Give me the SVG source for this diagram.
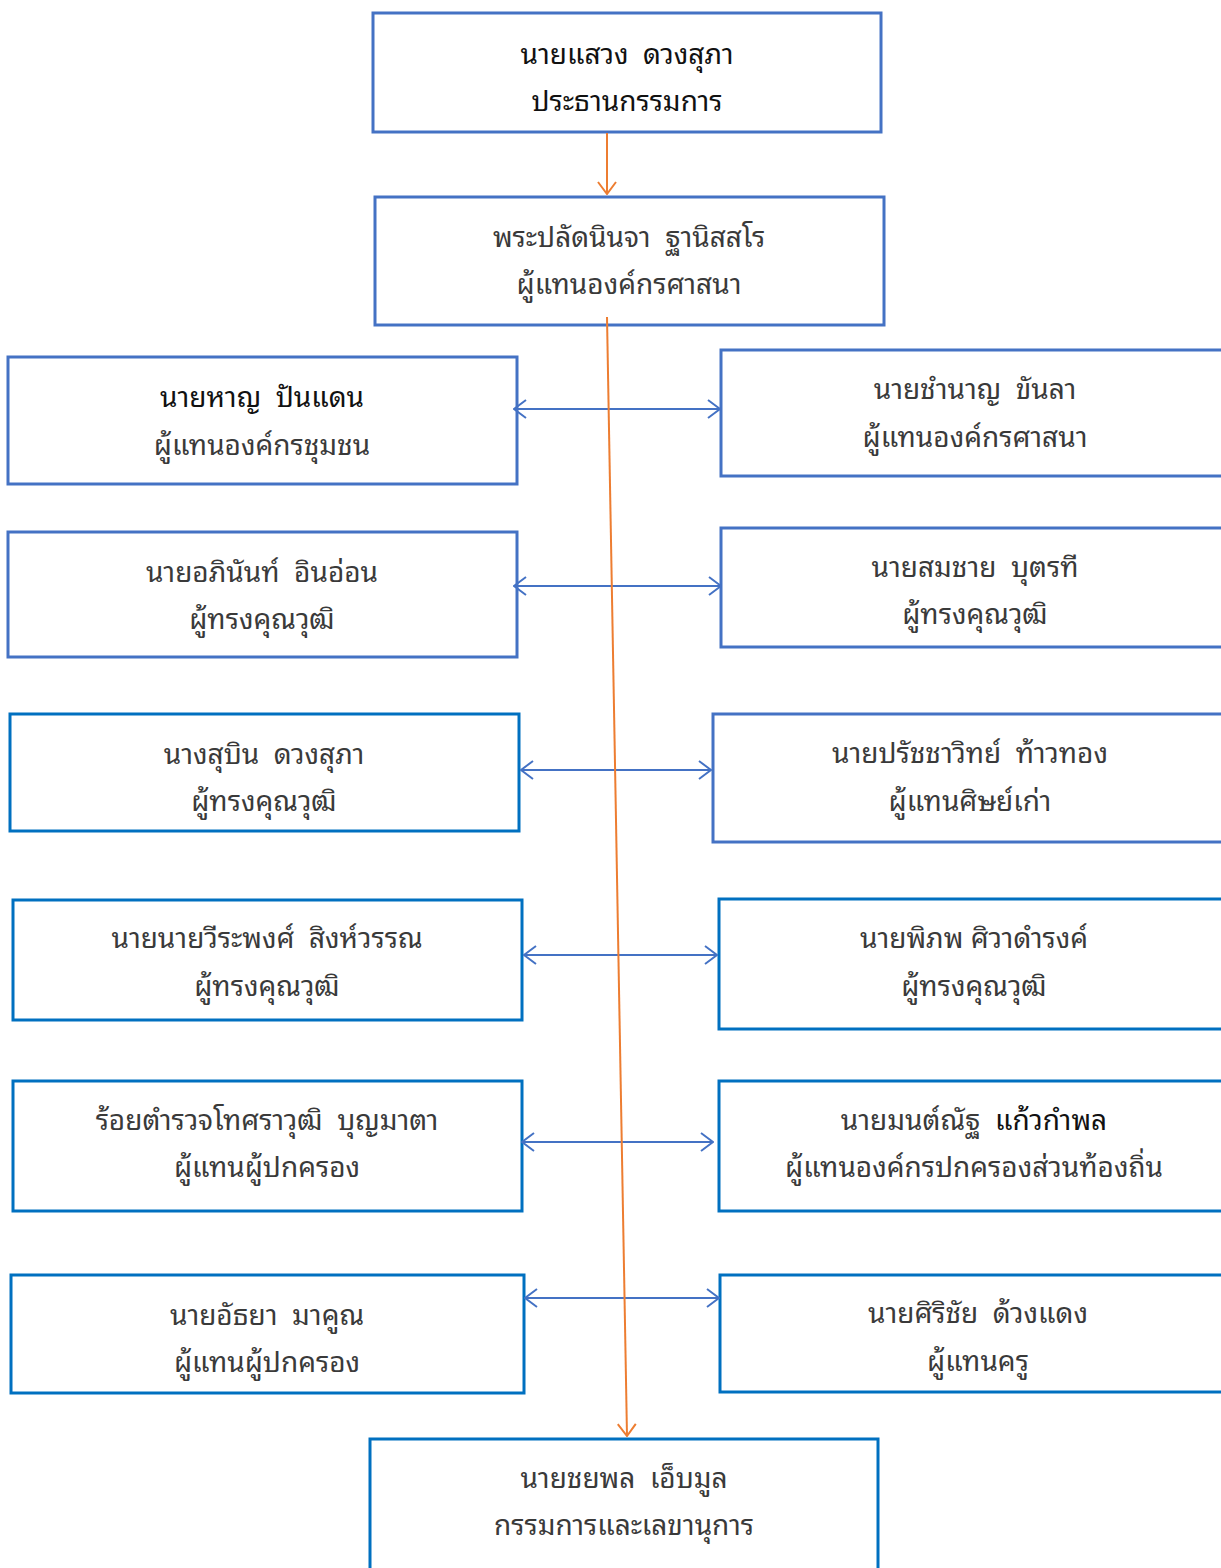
<svg xmlns="http://www.w3.org/2000/svg" width="1221" height="1568" viewBox="0 0 1221 1568">
<style>
.b1{fill:#fff;stroke:#4472C4;stroke-width:3}
.b2{fill:#fff;stroke:#0070C0;stroke-width:3}
text{font-family:"Noto Sans Thai Looped","Noto Sans Thai","Noto Sans","DejaVu Sans",sans-serif;font-size:28px;fill:#3a3a3a;text-anchor:middle;white-space:pre}
.dk{fill:#111}
.blue{stroke:#4472C4;stroke-width:2;fill:none}
.or{stroke:#ED7D31;stroke-width:2;fill:none}
</style>
<defs>
<marker id="ab" viewBox="0 0 14 20" refX="13" refY="10" markerWidth="14" markerHeight="20" markerUnits="userSpaceOnUse" orient="auto-start-reverse"><path d="M1,1 L13,10 L1,19" fill="none" stroke="#4472C4" stroke-width="2"/></marker>
<marker id="ao" viewBox="0 0 14 20" refX="13" refY="10" markerWidth="14" markerHeight="20" markerUnits="userSpaceOnUse" orient="auto"><path d="M1,1 L13,10 L1,19" fill="none" stroke="#ED7D31" stroke-width="2"/></marker>
</defs>
<g id="n0"><rect class="b1" x="373" y="13" width="508" height="119"/><text class="dk" x="627" y="64">นายแสวง  ดวงสุภา</text><text class="dk" x="627" y="111">ประธานกรรมการ</text></g>
<g id="n1"><rect class="b1" x="375" y="197" width="509" height="128"/><text x="629" y="247">พระปลัดนินจา  ฐานิสสโร</text><text x="629" y="294">ผู้แทนองค์กรศาสนา</text></g>
<g id="l1"><rect class="b1" x="8" y="357" width="509" height="127"/><text class="dk" x="262" y="407">นายหาญ  ปันแดน</text><text x="262" y="455">ผู้แทนองค์กรชุมชน</text></g>
<g id="r1"><rect class="b1" x="721" y="350" width="510" height="126"/><text x="975" y="399">นายชำนาญ  ขันลา</text><text x="975" y="447">ผู้แทนองค์กรศาสนา</text></g>
<g id="l2"><rect class="b1" x="8" y="532" width="509" height="125"/><text x="262" y="582">นายอภินันท์  อินอ่อน</text><text x="262" y="629">ผู้ทรงคุณวุฒิ</text></g>
<g id="r2"><rect class="b1" x="721" y="528" width="510" height="119"/><text x="975" y="577">นายสมชาย  บุตรที</text><text x="975" y="624">ผู้ทรงคุณวุฒิ</text></g>
<g id="l3"><rect class="b2" x="10" y="714" width="509" height="117"/><text x="264" y="764">นางสุบิน  ดวงสุภา</text><text x="264" y="811">ผู้ทรงคุณวุฒิ</text></g>
<g id="r3"><rect class="b1" x="713" y="714" width="518" height="128"/><text x="970" y="763">นายปรัชชาวิทย์  ท้าวทอง</text><text x="970" y="811">ผู้แทนศิษย์เก่า</text></g>
<g id="l4"><rect class="b2" x="13" y="900" width="509" height="120"/><text x="267" y="948">นายนายวีระพงศ์  สิงห์วรรณ</text><text x="267" y="996">ผู้ทรงคุณวุฒิ</text></g>
<g id="r4"><rect class="b2" x="719" y="899" width="512" height="130"/><text x="974" y="948">นายพิภพ ศิวาดำรงค์</text><text x="974" y="996">ผู้ทรงคุณวุฒิ</text></g>
<g id="l5"><rect class="b2" x="13" y="1081" width="509" height="130"/><text x="267" y="1130">ร้อยตำรวจโทศราวุฒิ  บุญมาตา</text><text x="267" y="1177">ผู้แทนผู้ปกครอง</text></g>
<g id="r5"><rect class="b2" x="719" y="1081" width="512" height="130"/><text x="974" y="1130">นายมนต์ณัฐ  <tspan class="dk">แก้วกำพล</tspan></text><text x="974" y="1177">ผู้แทนองค์กรปกครองส่วนท้องถิ่น</text></g>
<g id="l6"><rect class="b2" x="11" y="1275" width="513" height="118"/><text x="267" y="1325">นายอัธยา  มาคูณ</text><text x="267" y="1372">ผู้แทนผู้ปกครอง</text></g>
<g id="r6"><rect class="b2" x="720" y="1275" width="511" height="117"/><text x="978" y="1323">นายศิริชัย  ด้วงแดง</text><text x="978" y="1371">ผู้แทนครู</text></g>
<g id="n2"><rect class="b2" x="370" y="1439" width="508" height="140"/><text x="624" y="1488">นายชยพล  เอ็บมูล</text><text x="624" y="1535">กรรมการและเลขานุการ</text></g>
<g id="connectors">
<line class="or" x1="607" y1="133" x2="607" y2="194" marker-end="url(#ao)"/>
<line class="blue" x1="514" y1="409" x2="720" y2="409" marker-start="url(#ab)" marker-end="url(#ab)"/>
<line class="blue" x1="514" y1="586" x2="721" y2="586" marker-start="url(#ab)" marker-end="url(#ab)"/>
<line class="blue" x1="521" y1="770" x2="711" y2="770" marker-start="url(#ab)" marker-end="url(#ab)"/>
<line class="blue" x1="524" y1="955" x2="717" y2="955" marker-start="url(#ab)" marker-end="url(#ab)"/>
<line class="blue" x1="522" y1="1142" x2="713" y2="1142" marker-start="url(#ab)" marker-end="url(#ab)"/>
<line class="blue" x1="525" y1="1298" x2="719" y2="1298" marker-start="url(#ab)" marker-end="url(#ab)"/>
<line class="or" x1="607" y1="317" x2="627" y2="1436" marker-end="url(#ao)"/>
</g>
</svg>
